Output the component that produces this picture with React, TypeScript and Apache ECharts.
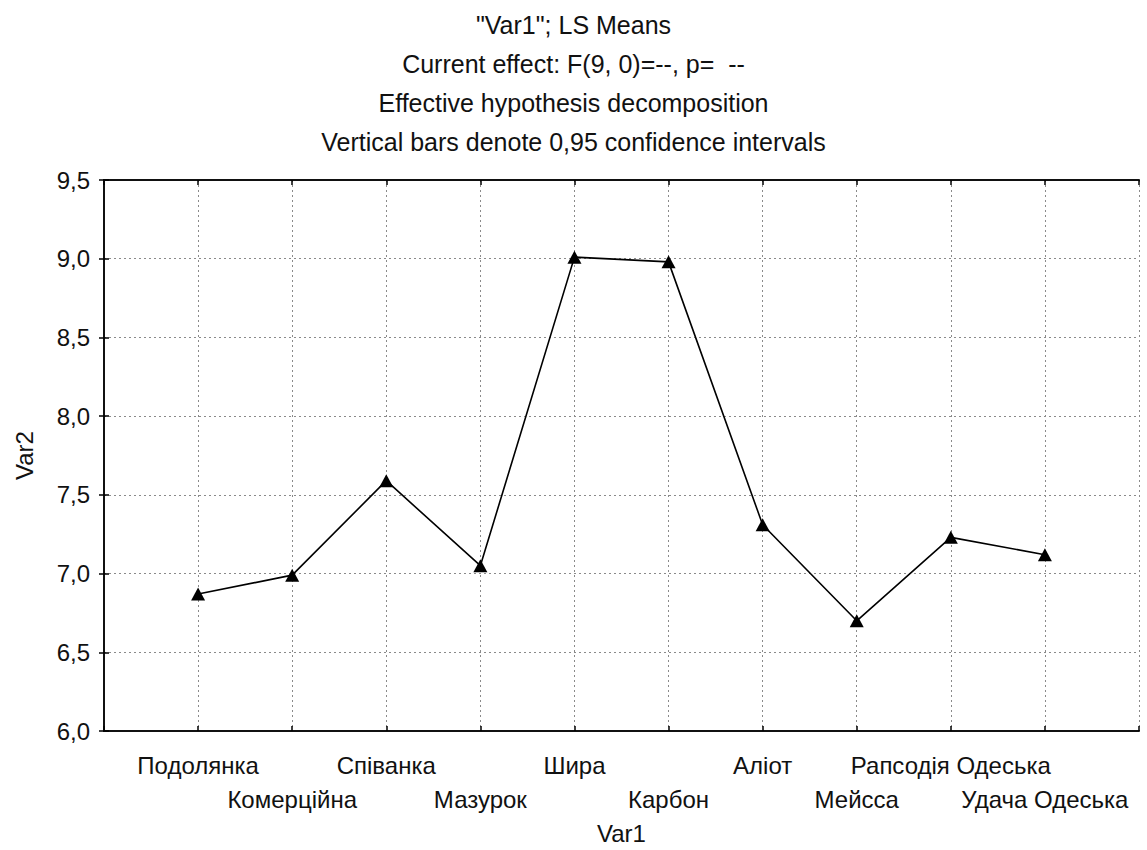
import React, { useEffect, useRef } from "react";
import * as echarts from "echarts";

const CATEGORIES = [
  "Подолянка",
  "Комерційна",
  "Співанка",
  "Мазурок",
  "Шира",
  "Карбон",
  "Аліот",
  "Мейсса",
  "Рапсодія Одеська",
  "Удача Одеська",
];
const VALUES = [6.87, 6.99, 7.59, 7.05, 9.01, 8.98, 7.31, 6.7, 7.23, 7.12];
const TITLE_LINES = [
  '"Var1"; LS Means',
  "Current effect: F(9, 0)=--, p=  --",
  "Effective hypothesis decomposition",
  "Vertical bars denote 0,95 confidence intervals",
];
const X_NAME = "Var1";
const Y_NAME = "Var2";
const Y_MIN = 6.0;
const Y_MAX = 9.5;
const Y_STEP = 0.5;

const FONT = "'Liberation Sans', Arial, sans-serif";

export default function App() {
  const ref = useRef<HTMLDivElement>(null);

  useEffect(() => {
    if (!ref.current) return;
    const chart = echarts.init(ref.current, undefined, { renderer: "svg" });
    const xMax = CATEGORIES.length + 1;
    const seriesData = VALUES.map((v, i) => [i + 1, v]);
    const axisTickStyle = { inside: true, length: 5, lineStyle: { color: "#000", width: 1.5 } };
    const axisLineStyle = { show: true, lineStyle: { color: "#111", width: 2 } };
    const gridLine = { show: true, lineStyle: { color: "#8a8a8a", type: [2, 3] as any, width: 1 } };

    chart.setOption({
      animation: false,
      backgroundColor: "#fff",
      textStyle: { fontFamily: FONT },
      title: {
        text: TITLE_LINES.join("\n"),
        left: "center",
        top: 0,
        textStyle: {
          fontFamily: FONT,
          fontSize: 25,
          fontWeight: "normal",
          color: "#111",
          lineHeight: 39,
        },
      },
      grid: { left: 104, right: 8, top: 180, bottom: 119, containLabel: false },
      xAxis: [
        {
          type: "value",
          min: 0,
          max: xMax,
          interval: 1,
          position: "bottom",
          name: X_NAME,
          nameLocation: "middle",
          nameGap: 90,
          nameTextStyle: { fontFamily: FONT, fontSize: 24, color: "#111" },
          axisLine: axisLineStyle,
          axisTick: {
            ...axisTickStyle,
            interval: 0,
          },
          axisLabel: {
            fontFamily: FONT,
            fontSize: 24,
            color: "#111",
            margin: 17,
            lineHeight: 34,
            showMinLabel: true,
            showMaxLabel: true,
            formatter: (v: number) => {
              const i = Math.round(v) - 1;
              if (i < 0 || i >= CATEGORIES.length) return "";
              return i % 2 === 1 ? "\n" + CATEGORIES[i] : CATEGORIES[i];
            },
          },
          splitLine: gridLine,
        },
        {
          type: "value",
          min: 0,
          max: xMax,
          interval: 1,
          position: "top",
          axisLine: axisLineStyle,
          axisTick: axisTickStyle,
          axisLabel: { show: false },
          splitLine: { show: false },
        },
      ],
      yAxis: [
        {
          type: "value",
          min: Y_MIN,
          max: Y_MAX,
          interval: Y_STEP,
          position: "left",
          name: Y_NAME,
          nameLocation: "middle",
          nameGap: 68,
          nameRotate: 90,
          nameTextStyle: { fontFamily: FONT, fontSize: 24, color: "#111" },
          axisLine: axisLineStyle,
          axisTick: axisTickStyle,
          axisLabel: {
            fontFamily: FONT,
            fontSize: 24,
            color: "#111",
            margin: 14,
            formatter: (v: number) => v.toFixed(1).replace(".", ","),
          },
          splitLine: gridLine,
        },
        {
          type: "value",
          min: Y_MIN,
          max: Y_MAX,
          interval: Y_STEP,
          position: "right",
          axisLine: axisLineStyle,
          axisTick: axisTickStyle,
          axisLabel: { show: false },
          splitLine: { show: false },
        },
      ],
      series: [
        {
          type: "line",
          data: seriesData,
          xAxisIndex: 0,
          yAxisIndex: 0,
          symbol: "triangle",
          symbolSize: [14, 13],
          itemStyle: { color: "#000" },
          lineStyle: { color: "#000", width: 1.6 },
          z: 5,
        },
      ],
    });

    return () => chart.dispose();
  }, []);

  return (
    <div
      ref={ref}
      style={{ position: "fixed", left: 0, top: 0, width: 1147, height: 850, background: "#fff" }}
    />
  );
}
